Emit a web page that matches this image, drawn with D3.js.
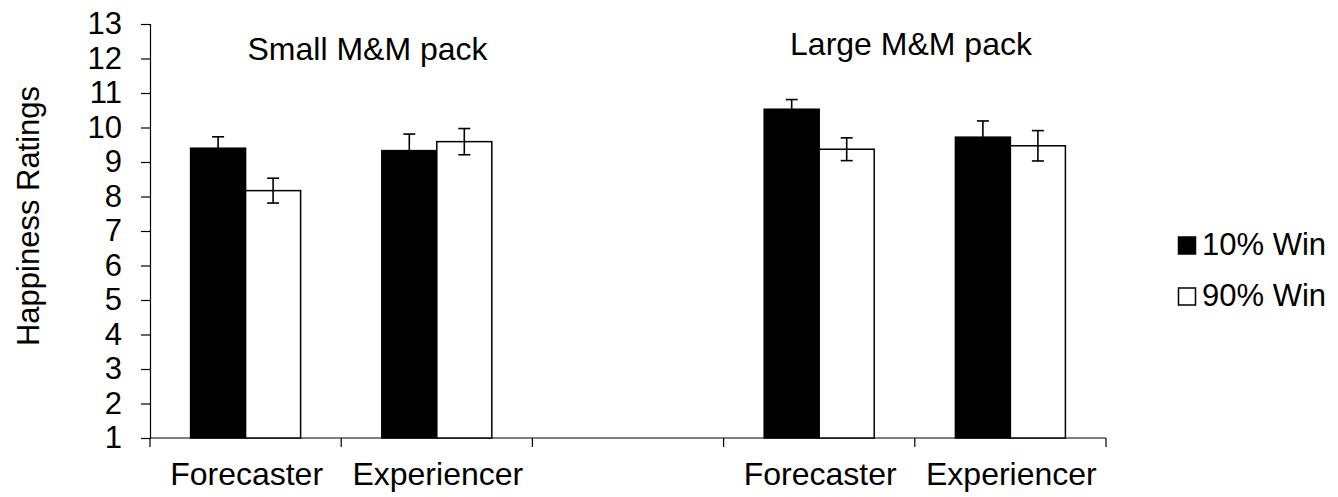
<!DOCTYPE html>
<html>
<head>
<meta charset="utf-8">
<script src="https://cdn.jsdelivr.net/npm/d3@7"></script>
<style>
  html, body { margin: 0; padding: 0; background: #fff; }
  svg { display: block; }
  text { font-family: "Liberation Sans", Arial, Helvetica, sans-serif; fill: #000; }
</style>
</head>
<body>
<svg id="chart" width="1338" height="497"></svg>
<script>
// ---- data ----
const categories = ["Forecaster|S", "Experiencer|S", "gap", "Forecaster|L", "Experiencer|L"];
const categoryLabels = ["Forecaster", "Experiencer", "", "Forecaster", "Experiencer"];
const series = ["10% Win", "90% Win"];
const values10 = [9.40, 9.33, null, 10.53, 9.72];
const values90 = [8.17, 9.59, null, 9.37, 9.47];
const err10 = [0.33, 0.48, null, 0.28, 0.47];
const err90 = [0.36, 0.38, null, 0.33, 0.44];
const yTicks = [1, 2, 3, 4, 5, 6, 7, 8, 9, 10, 11, 12, 13];
const groupTitles = ["Small M&M pack", "Large M&M pack"];
const yTitle = "Happiness Ratings";

// ---- layout ----
(function () {
const svg = d3.select("#chart");
const mLeft = 150, mRight = 1106, mTop = 24, mBottom = 438;

const y = d3.scaleLinear().domain([1, 13]).range([mBottom, mTop]);
const x0 = d3.scaleBand().domain(categories).range([mLeft, mRight]).paddingInner(0).paddingOuter(0);
const x1 = d3.scaleBand().domain(series).range([0, x0.bandwidth()]).paddingInner(0).paddingOuter(0.738);

// y axis
const yAxis = d3.axisLeft(y).tickValues(yTicks).tickSize(9).tickPadding(19).tickFormat(d3.format("d"));
const gy = svg.append("g").attr("transform", `translate(${mLeft},0)`).call(yAxis);
gy.select(".domain").attr("stroke", "#000").attr("stroke-width", 1.2);
gy.selectAll(".tick line").attr("stroke", "#000").attr("stroke-width", 1.2);
gy.selectAll(".tick text").style("font-size", "31px").attr("fill", "#000")
  .style("font-family", "'Liberation Sans', Arial, sans-serif");

// x axis line and boundary ticks
const boundaries = categories.map(c => x0(c)).concat([mRight]);
svg.append("line").attr("x1", mLeft).attr("x2", mRight).attr("y1", mBottom).attr("y2", mBottom)
  .attr("stroke", "#000").attr("stroke-width", 1.2);
svg.selectAll(".xtick").data(boundaries).enter().append("line")
  .attr("x1", d => d).attr("x2", d => d).attr("y1", mBottom).attr("y2", mBottom + 9)
  .attr("stroke", "#000").attr("stroke-width", 1.2);

// category labels
svg.selectAll(".xlab").data(categories).enter().append("text")
  .attr("x", d => x0(d) + x0.bandwidth() / 2 + 1)
  .attr("y", 485)
  .attr("text-anchor", "middle")
  .style("font-size", "32px")
  .text((d, i) => categoryLabels[i]);

// bars
const rows = [];
categories.forEach((c, i) => {
  if (values10[i] != null) rows.push({ c, s: series[0], v: values10[i], e: err10[i] });
  if (values90[i] != null) rows.push({ c, s: series[1], v: values90[i], e: err90[i] });
});

svg.selectAll(".bar").data(rows).enter().append("rect")
  .attr("x", d => x0(d.c) + x1(d.s))
  .attr("y", d => y(d.v))
  .attr("width", x1.bandwidth())
  .attr("height", d => y(1) - y(d.v))
  .attr("fill", d => d.s === series[0] ? "#000" : "#fff")
  .attr("stroke", "#000")
  .attr("stroke-width", 1.5);

// error bars
const eb = svg.selectAll(".eb").data(rows).enter().append("g")
  .attr("transform", d => `translate(${x0(d.c) + x1(d.s) + x1.bandwidth() / 2},0)`);
eb.append("line").attr("x1", 0).attr("x2", 0)
  .attr("y1", d => y(d.v + d.e)).attr("y2", d => y(d.v - d.e))
  .attr("stroke", "#000").attr("stroke-width", 1.6);
eb.append("line").attr("x1", -6).attr("x2", 6)
  .attr("y1", d => y(d.v + d.e)).attr("y2", d => y(d.v + d.e))
  .attr("stroke", "#000").attr("stroke-width", 1.6);
eb.append("line").attr("x1", -6).attr("x2", 6)
  .attr("y1", d => y(d.v - d.e)).attr("y2", d => y(d.v - d.e))
  .attr("stroke", "#000").attr("stroke-width", 1.6);

// group titles
svg.append("text").attr("x", 367.5).attr("y", 60).attr("text-anchor", "middle")
  .style("font-size", "32px").text(groupTitles[0]);
svg.append("text").attr("x", 911).attr("y", 55).attr("text-anchor", "middle")
  .style("font-size", "32px").text(groupTitles[1]);

// y title
svg.append("text").attr("transform", "translate(39,216) rotate(-90)")
  .attr("text-anchor", "middle").style("font-size", "31px").text(yTitle);

// legend
const legendY = [255, 306];
const lg = svg.selectAll(".lg").data(series).enter().append("g");
lg.append("rect").attr("x", 1178.5).attr("y", (d, i) => legendY[i] - 18)
  .attr("width", 17).attr("height", 17)
  .attr("fill", (d, i) => i === 0 ? "#000" : "#fff")
  .attr("stroke", "#000").attr("stroke-width", 1.5);
lg.append("text").attr("x", 1202).attr("y", (d, i) => legendY[i])
  .style("font-size", "31px").text(d => d);
})();
</script>
</body>
</html>
